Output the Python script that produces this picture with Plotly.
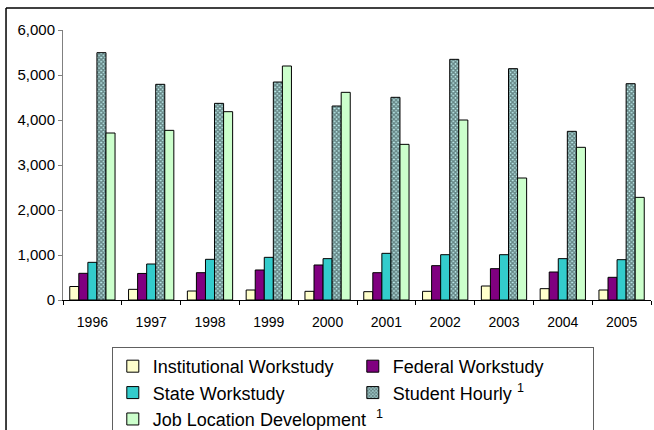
import plotly.graph_objects as go

years = ["1996", "1997", "1998", "1999", "2000", "2001", "2002", "2003", "2004", "2005"]
institutional = [300, 237, 200, 222, 193, 185, 193, 311, 252, 222]
federal = [593, 590, 607, 667, 778, 607, 763, 696, 622, 504]
state = [837, 800, 904, 948, 919, 1037, 1007, 1007, 919, 896]
student_hourly = [5496, 4793, 4370, 4844, 4311, 4504, 5348, 5141, 3748, 4807]
job_location = [3711, 3770, 4185, 5200, 4615, 3459, 4000, 2711, 3393, 2281]
y_ticks = [0, 1000, 2000, 3000, 4000, 5000, 6000]

series = [
    ("Institutional Workstudy", institutional, "#FFFFCC", None),
    ("Federal Workstudy", federal, "#800080", None),
    ("State Workstudy", state, "#33CCCC", None),
    ("Student Hourly <sup>1</sup>", student_hourly, "#BFEFEF", "x"),
    ("Job Location Development  <sup>1</sup>", job_location, "#CCFFCC", None),
]

fig = go.Figure()
for name, vals, color, pat in series:
    marker = dict(color=color, line=dict(color="#000000", width=1))
    if pat:
        marker["pattern"] = dict(shape=pat, fgcolor="#102020", bgcolor=color, size=3, solidity=0.75)
    fig.add_trace(go.Bar(x=years, y=vals, name=name, marker=marker))

fig.update_layout(
    width=654, height=430,
    margin=dict(l=63, r=3, t=30, b=130, autoexpand=False),
    paper_bgcolor="white", plot_bgcolor="white",
    barmode="group", bargap=0.23, bargroupgap=0,
    font=dict(family="Arial, Liberation Sans, sans-serif", color="#000000", size=14),
    showlegend=True,
    legend=dict(
        orientation="h", x=0.083, y=-0.174, xanchor="left", yanchor="top",
        entrywidth=195, bordercolor="#606060", borderwidth=1,
        font=dict(size=18, family="Arial, Liberation Sans, sans-serif"),
        traceorder="normal",
    ),
    xaxis=dict(
        showline=True, linecolor="#000000", linewidth=1,
        ticks="outside", tickson="boundaries", ticklen=4, tickcolor="#000000",
        showgrid=False, tickfont=dict(size=14), ticklabelstandoff=9,
    ),
    yaxis=dict(
        range=[0, 6000], tickvals=y_ticks, tickformat=",d",
        showline=True, linecolor="#808080", linewidth=1,
        ticks="outside", ticklen=4, tickcolor="#808080",
        showgrid=False, zeroline=False, tickfont=dict(size=15),
    ),
    shapes=[
        dict(type="line", xref="paper", yref="paper", x0=-0.0969, x1=-0.0969, y0=1.0815, y1=-0.5,
             line=dict(color="#000000", width=1.5)),
        dict(type="line", xref="paper", yref="paper", x0=-0.0969, x1=1.01, y0=1.0815, y1=1.0815,
             line=dict(color="#000000", width=1.5)),
    ],
)

fig.write_html("out.html", config={"displayModeBar": False},
               post_script="document.body.style.margin='0';")
